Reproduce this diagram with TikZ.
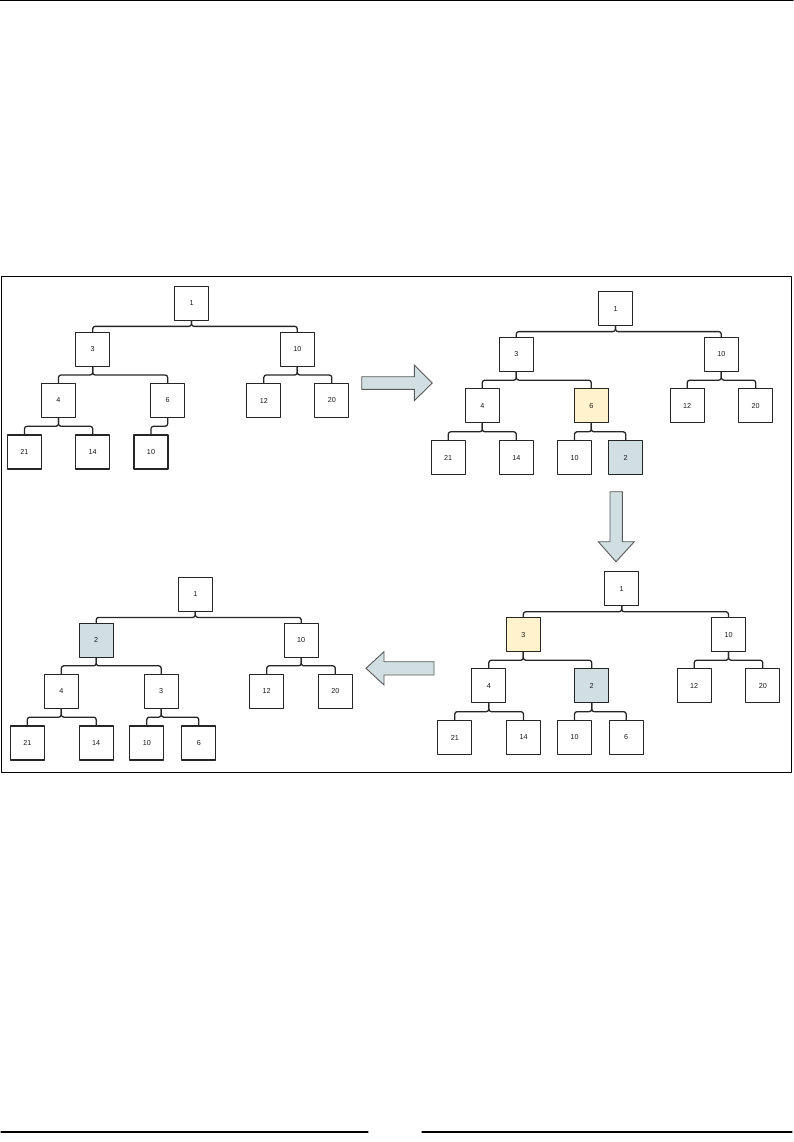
\documentclass[tikz,border=0pt]{standalone}
\usepackage{fontspec}
\setmainfont{Liberation Sans}
\usetikzlibrary{calc}

\definecolor{swapy}{HTML}{FFF2CC}
\definecolor{swapb}{HTML}{D2DFE2}

\tikzset{
  box/.style={draw=black!85,line width=1.1pt,minimum size=34pt,inner sep=0pt,
    font=\fontsize{7.2}{8}\selectfont,text=black!90},
  link/.style={draw=black!85,line width=1.3pt,rounded corners=2.5pt},
  bigarrow/.style={draw=black!65,fill=swapb,line width=0.9pt,line join=miter},
}

\begin{document}
\begin{tikzpicture}[x=1pt,y=-1pt,line cap=round,line join=round]

\useasboundingbox (0,0) rectangle (793,1142);

% page rules
\draw[line width=1pt] (0,1) -- (793,1);
\draw[line width=1.2pt] (1,1132) -- (368,1132);
\draw[line width=1.2pt] (422,1132) -- (792,1132);

% frame
\draw[line width=0.9pt] (1.5,276.5) rectangle (791,772.5);

% heap 1
\node[box] (a1)  at (191.5,303.2) {1};
\node[box] (a3)  at (92.7,349.5)  {3};
\node[box] (a10) at (297.3,349.5) {10};
\node[box] (a4)  at (58.5,400.5)  {4};
\node[box] (a6)  at (167.7,400.5) {6};
\node[box] (a12) at (263.8,400.5) {12};
\node[box] (a20) at (331.8,400.5) {20};
\node[box] (a21) at (24.5,452)    {21};
\node[box] (a14) at (92.7,452)    {14};
\node[box] (a0)  at (151,452)     {10};

% heap 2: 2 added below 6
\node[box] (b1)  at (615.5,308.7) {1};
\node[box] (b3)  at (516.3,354.5) {3};
\node[box] (b10) at (721.3,354.5) {10};
\node[box] (b4)  at (482.3,405.8) {4};
\node[box,fill=swapy] (b6) at (591.3,405.8) {6};
\node[box] (b12) at (687.2,405.8) {12};
\node[box] (b20) at (755.7,405.8) {20};
\node[box] (b21) at (448.2,457.8) {21};
\node[box] (b14) at (516.3,457.8) {14};
\node[box] (b0)  at (574.5,457.8) {10};
\node[box,fill=swapb] (b2) at (625.7,457.8) {2};

% heap 3: 2 swapped with 6
\node[box] (c1)  at (621.7,588.8) {1};
\node[box,fill=swapy] (c3) at (523.3,634.7) {3};
\node[box] (c10) at (728.5,634.7) {10};
\node[box] (c4)  at (488.8,685.8) {4};
\node[box,fill=swapb] (c2) at (591.7,685.8) {2};
\node[box] (c12) at (694.2,685.8) {12};
\node[box] (c20) at (762.8,685.8) {20};
\node[box] (c21) at (454.8,737.5) {21};
\node[box] (c14) at (523.5,737.5) {14};
\node[box] (c0)  at (574.5,737.5) {10};
\node[box] (c6)  at (626.2,737.5) {6};

% heap 4: 2 swapped with 3
\node[box] (d1)  at (195.3,594.5) {1};
\node[box,fill=swapb] (d2) at (96.2,640.3) {2};
\node[box] (d10) at (301.2,640.3) {10};
\node[box] (d4)  at (61.3,691.3)  {4};
\node[box] (d3)  at (161.2,691.3) {3};
\node[box] (d12) at (266.7,691.3) {12};
\node[box] (d20) at (335.3,691.3) {20};
\node[box] (d21) at (27.3,743)    {21};
\node[box] (d14) at (96.2,743)    {14};
\node[box] (d0)  at (146.8,743)   {10};
\node[box] (d6)  at (198.8,743)   {6};

% parent -> child links
\foreach \p/\c in {a1/a3,a1/a10,a3/a4,a3/a6,a10/a12,a10/a20,a4/a21,a4/a14,a6/a0,
                   b1/b3,b1/b10,b3/b4,b3/b6,b10/b12,b10/b20,b4/b21,b4/b14,b6/b0,b6/b2,
                   c1/c3,c1/c10,c3/c4,c3/c2,c10/c12,c10/c20,c4/c21,c4/c14,c2/c0,c2/c6,
                   d1/d2,d1/d10,d2/d4,d2/d3,d10/d12,d10/d20,d4/d21,d4/d14,d3/d0,d3/d6}
  \draw[link] (\p.south) |- ($(\p.south)!0.5!(\c.north)$) -| (\c.north);

% step arrows
\draw[bigarrow] (361.7,376.7) -- (414.3,376.7) -- (414.3,365) -- (432.3,383)
  -- (414.3,400.7) -- (414.3,389.3) -- (361.7,389.3) -- cycle;
\draw[bigarrow] (610,491.7) -- (622.3,491.7) -- (622.3,541.7) -- (634.3,541.7)
  -- (616,561.7) -- (598.3,541.7) -- (610,541.7) -- cycle;
\draw[bigarrow] (434,661.7) -- (384,661.7) -- (384,651.7) -- (366,668.3)
  -- (384,685) -- (384,675) -- (434,675) -- cycle;

\end{tikzpicture}
\end{document}
